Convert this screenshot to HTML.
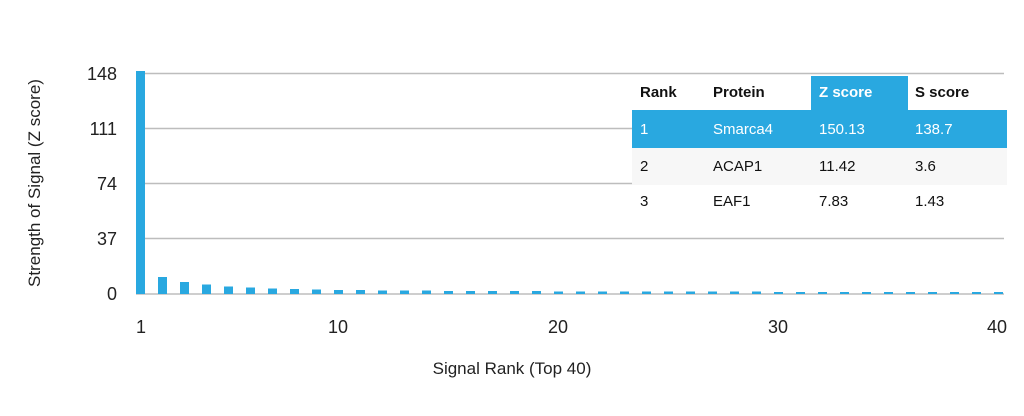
<!DOCTYPE html>
<html><head><style>
body{margin:0;background:#fff;font-family:"Liberation Sans",sans-serif;}
</style></head><body>
<svg width="1024" height="411" xmlns="http://www.w3.org/2000/svg" font-family="Liberation Sans, sans-serif">
<g stroke="#bdbdbd" stroke-width="1.5">
<line x1="136" x2="1004" y1="73.5" y2="73.5"/>
<line x1="136" x2="1004" y1="128.5" y2="128.5"/>
<line x1="136" x2="1004" y1="183.5" y2="183.5"/>
<line x1="136" x2="1004" y1="238.5" y2="238.5"/>
<line x1="136" x2="1004" y1="294" y2="294"/>
</g>
<g fill="#222" font-size="18" text-anchor="end">
<text x="117" y="80">148</text>
<text x="117" y="135">111</text>
<text x="117" y="190">74</text>
<text x="117" y="245">37</text>
<text x="117" y="300">0</text>
</g>
<g fill="#222" font-size="18" text-anchor="middle">
<text x="141" y="333">1</text>
<text x="338" y="333">10</text>
<text x="558" y="333">20</text>
<text x="778" y="333">30</text>
<text x="997" y="333">40</text>
<text x="512" y="374" font-size="17">Signal Rank (Top 40)</text>
<text transform="translate(40,183) rotate(-90)" font-size="17">Strength of Signal (Z score)</text>
</g>
<g fill="#29a8e0">
<rect x="136" y="71" width="9" height="223"/>
<rect x="158" y="277" width="9" height="17"/>
<rect x="180" y="282" width="9" height="12"/>
<rect x="202" y="284.5" width="9" height="9.5"/>
<rect x="224" y="286.5" width="9" height="7.5"/>
<rect x="246" y="287.5" width="9" height="6.5"/>
<rect x="268" y="288.5" width="9" height="5.5"/>
<rect x="290" y="289" width="9" height="5"/>
<rect x="312" y="289.5" width="9" height="4.5"/>
<rect x="334" y="290" width="9" height="4"/>
<rect x="356" y="290" width="9" height="4"/>
<rect x="378" y="290.5" width="9" height="3.5"/>
<rect x="400" y="290.5" width="9" height="3.5"/>
<rect x="422" y="290.5" width="9" height="3.5"/>
<rect x="444" y="291" width="9" height="3"/>
<rect x="466" y="291" width="9" height="3"/>
<rect x="488" y="291" width="9" height="3"/>
<rect x="510" y="291" width="9" height="3"/>
<rect x="532" y="291" width="9" height="3"/>
<rect x="554" y="291.5" width="9" height="2.5"/>
<rect x="576" y="291.5" width="9" height="2.5"/>
<rect x="598" y="291.5" width="9" height="2.5"/>
<rect x="620" y="291.5" width="9" height="2.5"/>
<rect x="642" y="291.5" width="9" height="2.5"/>
<rect x="664" y="291.5" width="9" height="2.5"/>
<rect x="686" y="291.5" width="9" height="2.5"/>
<rect x="708" y="291.5" width="9" height="2.5"/>
<rect x="730" y="291.5" width="9" height="2.5"/>
<rect x="752" y="291.5" width="9" height="2.5"/>
<rect x="774" y="292" width="9" height="2"/>
<rect x="796" y="292" width="9" height="2"/>
<rect x="818" y="292" width="9" height="2"/>
<rect x="840" y="292" width="9" height="2"/>
<rect x="862" y="292" width="9" height="2"/>
<rect x="884" y="292" width="9" height="2"/>
<rect x="906" y="292" width="9" height="2"/>
<rect x="928" y="292" width="9" height="2"/>
<rect x="950" y="292" width="9" height="2"/>
<rect x="972" y="292" width="9" height="2"/>
<rect x="994" y="292" width="9" height="2"/>
</g>
<rect x="632" y="76" width="375" height="145" fill="#fff"/>
<rect x="811" y="76" width="97" height="34" fill="#29a8e0"/>
<rect x="632" y="110" width="375" height="38" fill="#29a8e0"/>
<rect x="632" y="148" width="375" height="37" fill="#f7f7f7"/>
<g font-size="15">
<g font-weight="bold" fill="#111">
<text x="640" y="97">Rank</text><text x="713" y="97">Protein</text>
<text x="819" y="97" fill="#fff">Z score</text><text x="915" y="97">S score</text>
</g>
<g fill="#fff">
<text x="640" y="134">1</text><text x="713" y="134">Smarca4</text><text x="819" y="134">150.13</text><text x="915" y="134">138.7</text>
</g>
<g fill="#111">
<text x="640" y="171">2</text><text x="713" y="171">ACAP1</text><text x="819" y="171">11.42</text><text x="915" y="171">3.6</text>
<text x="640" y="206">3</text><text x="713" y="206">EAF1</text><text x="819" y="206">7.83</text><text x="915" y="206">1.43</text>
</g>
</g>
</svg>
</body></html>
